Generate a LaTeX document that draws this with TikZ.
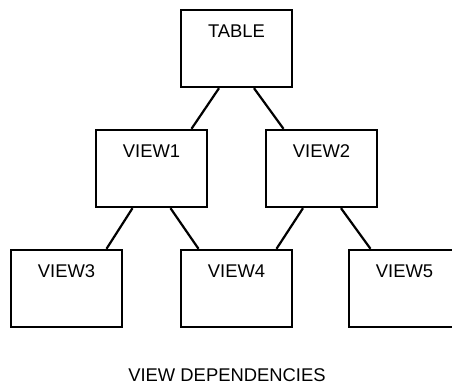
\documentclass[tikz,border=0pt]{standalone}
\usepackage{fontspec}
\setmainfont{Liberation Sans}
\usetikzlibrary{positioning,calc}

\begin{document}
\begin{tikzpicture}[x=0.5pt,y=-0.5pt,node distance=60pt and 42.5pt,on grid]
\tikzset{vbox/.style={draw,line width=1.2pt,minimum width=55.5pt,inner sep=0pt,
  text height=14pt,text depth=24.5pt,font=\fontsize{9.2}{10}\selectfont}}
\tikzset{dep/.style={line width=1.1pt}}
  \useasboundingbox (0,0) rectangle (452,385);
  \node[vbox] (table) at (236.5,48.5) {TABLE};
  \node[vbox] (view1) [below left=of table] {VIEW1};
  \node[vbox] (view2) [below right=of table] {VIEW2};
  \node[vbox] (view3) [below left=of view1] {VIEW3};
  \node[vbox] (view4) [below right=of view1] {VIEW4};
  \node[vbox] (view5) [below right=60pt and 41.5pt of view2] {VIEW5};
  \node[font=\fontsize{9.2}{10}\selectfont] (caption) at (227,375) {VIEW DEPENDENCIES};
  % dependencies
  \draw[dep] ([xshift=-8.75pt]table.south) -- ([xshift=20pt]view1.north);
  \draw[dep] ([xshift=8.75pt]table.south) -- ([xshift=-19pt]view2.north);
  \draw[dep] ([xshift=-9.5pt]view1.south) -- ([xshift=20pt]view3.north);
  \draw[dep] ([xshift=9.5pt]view1.south) -- ([xshift=-19pt]view4.north);
  \draw[dep] ([xshift=-9.25pt]view2.south) -- ([xshift=20pt]view4.north);
  \draw[dep] ([xshift=9.75pt]view2.south) -- ([xshift=-17pt]view5.north);
\end{tikzpicture}
\end{document}
